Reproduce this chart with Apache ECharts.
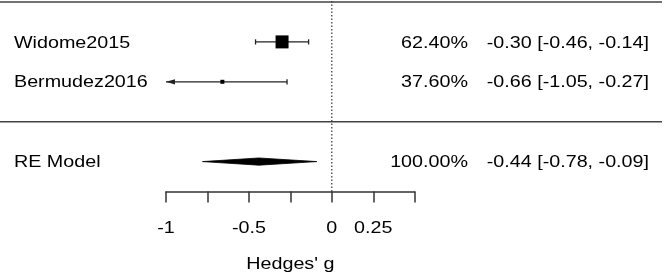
<!DOCTYPE html>
<html>
<head>
<meta charset="utf-8">
<script src="https://cdn.jsdelivr.net/npm/echarts@6/dist/echarts.min.js"></script>
<style>
html, body { margin: 0; padding: 0; background: #fff; }
#main { width: 664px; height: 276px; }
</style>
</head>
<body>
<div id="main"></div>
<script>
// study data
var studies = ['Widome2015', 'Bermudez2016'];
var estimates = [-0.30, -0.66];
var lowers = [-0.46, -1.05];
var uppers = [-0.14, -0.27];
var weights = [62.40, 37.60];
var studyRows = [2, 1];

// pooled model
var reLabel = 'RE Model';
var reEstimate = -0.44;
var reLower = -0.78;
var reUpper = -0.09;
var reWeight = 100.00;
var reRow = -1;

// axis
var tickLabels = [-1, -0.5, 0, 0.25];
var axisTitle = "Hedges' g";
var xMin = -1, xMax = 0.5;

var FONT = '17px "Liberation Sans", Arial, sans-serif';
var STRETCH = 1.16;   // the original text is a bit wide
var LINE = '#222';

var minW = Math.min.apply(null, weights);
var maxW = Math.max.apply(null, weights);

var chart = echarts.init(document.getElementById('main'));

var studyData = studies.map(function (s, i) {
    return [estimates[i], lowers[i], uppers[i], weights[i], studyRows[i]];
});

function renderStudy(params, api) {
    var est = api.value(0), lo = api.value(1), hi = api.value(2);
    var w = api.value(3), row = api.value(4);
    var pEst = api.coord([est, row]);
    var pLo = api.coord([Math.max(lo, xMin), row]);
    var pHi = api.coord([Math.min(hi, xMax), row]);
    var size = maxW > minW ? 4 + (w - minW) / (maxW - minW) * 9 : 8;
    var y = pEst[1];
    var kids = [{
        type: 'line',
        shape: { x1: pLo[0], y1: y, x2: pHi[0], y2: y },
        style: { stroke: LINE, lineWidth: 1.3 }
    }];
    if (lo < xMin) {
        kids.push({
            type: 'polygon',
            shape: { points: [[pLo[0], y], [pLo[0] + 9, y - 2.6], [pLo[0] + 9, y + 2.6]] },
            style: { fill: LINE }
        });
    } else {
        kids.push({
            type: 'line',
            shape: { x1: pLo[0], y1: y - 2.6, x2: pLo[0], y2: y + 2.6 },
            style: { stroke: LINE, lineWidth: 1.3 }
        });
    }
    kids.push({
        type: 'line',
        shape: { x1: pHi[0], y1: y - 2.6, x2: pHi[0], y2: y + 2.6 },
        style: { stroke: LINE, lineWidth: 1.3 }
    });
    kids.push({
        type: 'rect',
        shape: { x: pEst[0] - size / 2, y: y - size / 2, width: size, height: size },
        style: { fill: '#000' }
    });
    return { type: 'group', children: kids };
}

function renderDiamond(params, api) {
    var pE = api.coord([api.value(0), api.value(3)]);
    var pL = api.coord([api.value(1), api.value(3)]);
    var pU = api.coord([api.value(2), api.value(3)]);
    var h = 3.6;
    return {
        type: 'polygon',
        shape: { points: [[pL[0], pL[1]], [pE[0], pE[1] - h], [pU[0], pU[1]], [pE[0], pE[1] + h]] },
        style: { fill: '#000', stroke: '#000', lineWidth: 0.8 }
    };
}

var option = {
    animation: false,
    backgroundColor: '#fff',
    grid: { left: 166, right: 249.3, top: 2, height: 189.5 },
    xAxis: {
        type: 'value',
        min: xMin,
        max: xMax,
        interval: 0.25,
        axisLine: { show: true, onZero: false, lineStyle: { color: '#333', width: 1.5 } },
        axisTick: { show: true, length: 11, lineStyle: { color: '#333', width: 1.5 } },
        axisLabel: { show: false },
        splitLine: { show: false }
    },
    yAxis: {
        type: 'value',
        min: -1.75,
        max: 3,
        show: false,
        splitLine: { show: false }
    },
    series: [
        {
            // vertical reference line at 0
            type: 'line',
            data: [[0, -1.75], [0, 3.06]],
            symbol: 'none',
            clip: false,
            lineStyle: { color: '#333', width: 1.2, type: [1.5, 2] },
            silent: true
        },
        {
            type: 'custom',
            renderItem: renderStudy,
            clip: false,
            data: studyData
        },
        {
            type: 'custom',
            renderItem: renderDiamond,
            clip: false,
            data: [[reEstimate, reLower, reUpper, reRow]]
        }
    ]
};

chart.setOption(option);

function px(x, y) {
    return chart.convertToPixel({ gridIndex: 0 }, [x, y]);
}

function txt(str, x, y, align) {
    return {
        type: 'text',
        x: x,
        y: y,
        scaleX: STRETCH,
        silent: true,
        style: {
            text: str,
            x: 0,
            y: 0,
            fill: '#000',
            font: FONT,
            textAlign: align,
            textVerticalAlign: 'middle'
        }
    };
}

function ciText(e, l, u) {
    return e.toFixed(2) + ' [' + l.toFixed(2) + ', ' + u.toFixed(2) + ']';
}

var g = [];
// separators: top border and line above the pooled row
[3, 0].forEach(function (r) {
    var y = px(0, r)[1];
    g.push({
        type: 'line',
        silent: true,
        shape: { x1: 0, y1: y, x2: 662, y2: y },
        style: { stroke: '#444', lineWidth: 1.6 }
    });
});

studies.forEach(function (s, i) {
    var y = px(0, studyRows[i])[1] + 1;
    g.push(txt(s, 14, y, 'left'));
    g.push(txt(weights[i].toFixed(2) + '%', 468, y, 'right'));
    g.push(txt(ciText(estimates[i], lowers[i], uppers[i]), 649, y, 'right'));
});

var yRe = px(0, reRow)[1] + 1;
g.push(txt(reLabel, 14, yRe, 'left'));
g.push(txt(reWeight.toFixed(2) + '%', 468, yRe, 'right'));
g.push(txt(ciText(reEstimate, reLower, reUpper), 649, yRe, 'right'));

tickLabels.forEach(function (t) {
    var p = px(t, -1.75);
    g.push(txt(String(t), p[0], 228, 'center'));
});

g.push(txt(axisTitle, px((xMin + xMax) / 2, 0)[0], 264, 'center'));

chart.setOption({ graphic: g });
</script>
</body>
</html>
